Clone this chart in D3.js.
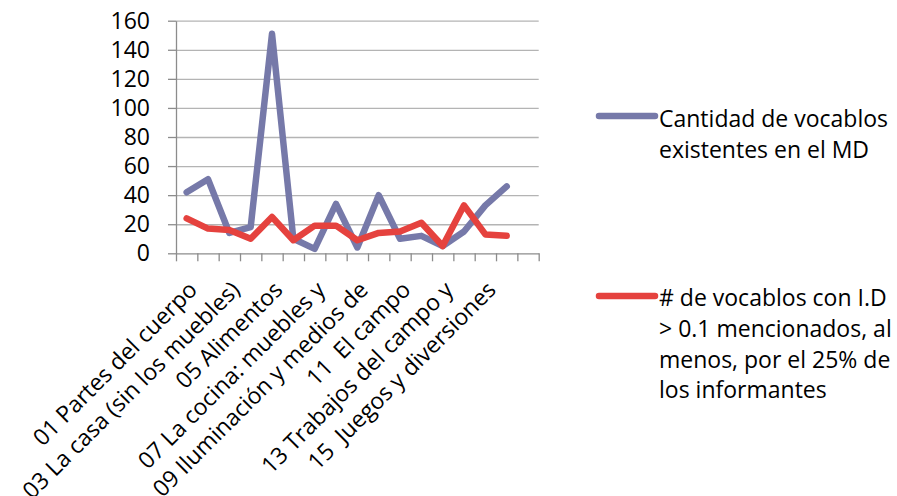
<!DOCTYPE html>
<html>
<head>
<meta charset="utf-8">
<script src="https://cdn.jsdelivr.net/npm/d3@7/dist/d3.min.js"></script>
<style>
  html, body { margin: 0; padding: 0; background: #fff; }
  svg { display: block; font-family: "Open Sans", "Liberation Sans", sans-serif; }
</style>
</head>
<body>
<svg id="chart" width="897" height="496"></svg>
<script>
// Semantic-field codes (17 slots on the axis, the last one empty)
const categories = [
  "01 Partes del cuerpo", "02", "03 La casa (sin los muebles)", "04",
  "05 Alimentos", "06", "07 La cocina: muebles y", "08",
  "09 Iluminación y medios de", "10", "11  El campo", "12",
  "13 Trabajos del campo y", "14", "15  Juegos y diversiones", "16", ""
];
// Only every other category label is printed on the axis
const shownLabels = [0, 2, 4, 6, 8, 10, 12, 14];

const seriesNames = [
  ["Cantidad de vocablos", "existentes en el MD"],
  ["# de vocablos con I.D", "> 0.1 mencionados, al", "menos, por el 25% de", "los informantes"]
];
const existentes = [42, 51, 14, 18, 151, 10, 3, 34, 4, 40, 10, 12, 5, 15, 33, 46, null];
const mencionados = [24, 17, 16, 10, 25, 9, 19, 19, 9, 14, 15, 21, 5, 33, 13, 12, null];
const yTicks = [0, 20, 40, 60, 80, 100, 120, 140, 160];
const colors = ["#7679a9", "#e5423e"];

const svg = d3.select("#chart");
const plotLeft = 176, plotRight = 538.7, plotTop = 20.7, plotBottom = 253.3;
const fontSize = 23;

const x = d3.scaleBand().domain(d3.range(categories.length)).range([plotLeft, plotRight]).padding(0);
const xEdges = d3.scaleLinear().domain([0, categories.length]).range([plotLeft, plotRight]);
const y = d3.scaleLinear().domain([0, 160]).range([plotBottom, plotTop]);

// Horizontal gridlines
svg.append("g")
  .attr("transform", `translate(${plotLeft},0)`)
  .call(d3.axisLeft(y).tickValues(yTicks.slice(1)).tickSize(-(plotRight - plotLeft)).tickFormat(""))
  .call(g => g.select(".domain").remove())
  .call(g => g.selectAll("line").attr("stroke", "#b4b4b4").attr("stroke-width", 1.3));

// Y axis
svg.append("g")
  .attr("transform", `translate(${plotLeft},0)`)
  .call(d3.axisLeft(y).tickValues(yTicks).tickSize(8).tickPadding(18).tickSizeOuter(0))
  .call(g => g.select(".domain").attr("stroke", "#8c8c8c").attr("stroke-width", 1.3))
  .call(g => g.selectAll("line").attr("stroke", "#8c8c8c").attr("stroke-width", 1.3))
  .call(g => g.selectAll("text").attr("font-size", fontSize).attr("fill", "#000")
    .attr("font-family", "Open Sans, sans-serif"));

// X axis: ticks on category boundaries
svg.append("g")
  .attr("transform", `translate(0,${plotBottom})`)
  .call(d3.axisBottom(xEdges).tickValues(d3.range(categories.length + 1)).tickSize(8).tickFormat("").tickSizeOuter(0))
  .call(g => g.select(".domain").attr("stroke", "#8c8c8c").attr("stroke-width", 1.3))
  .call(g => g.selectAll("line").attr("stroke", "#8c8c8c").attr("stroke-width", 1.3));

// Rotated category labels
svg.append("g")
  .selectAll("text")
  .data(shownLabels)
  .join("text")
  .attr("transform", i => `translate(${x(i) + x.bandwidth() / 2 + 12},${plotBottom + 38}) rotate(-45)`)
  .attr("text-anchor", "end")
  .attr("font-size", fontSize)
  .attr("fill", "#000")
  .style("white-space", "pre")
  .text(i => categories[i]);

// Series lines
const line = d3.line()
  .defined(d => d.v != null)
  .x(d => x(d.i) + x.bandwidth() / 2)
  .y(d => y(d.v));

[existentes, mencionados].forEach((vals, k) => {
  svg.append("path")
    .datum(vals.map((v, i) => ({ i, v })))
    .attr("fill", "none")
    .attr("stroke", colors[k])
    .attr("stroke-width", 6.5)
    .attr("stroke-linejoin", "round")
    .attr("stroke-linecap", "round")
    .attr("d", line);
});

// Legend
const legendItems = [
  { lineY: 116, firstBaseline: 127.3 },
  { lineY: 296, firstBaseline: 306 }
];
const lg = svg.append("g");
legendItems.forEach((item, k) => {
  lg.append("line")
    .attr("x1", 599).attr("x2", 655)
    .attr("y1", item.lineY).attr("y2", item.lineY)
    .attr("stroke", colors[k]).attr("stroke-width", 6.5).attr("stroke-linecap", "round");
  lg.append("text")
    .attr("font-size", fontSize).attr("fill", "#000")
    .selectAll("tspan")
    .data(seriesNames[k])
    .join("tspan")
    .attr("x", 659)
    .attr("y", (d, j) => item.firstBaseline + j * 30.8)
    .text(d => d);
});
</script>
</body>
</html>
